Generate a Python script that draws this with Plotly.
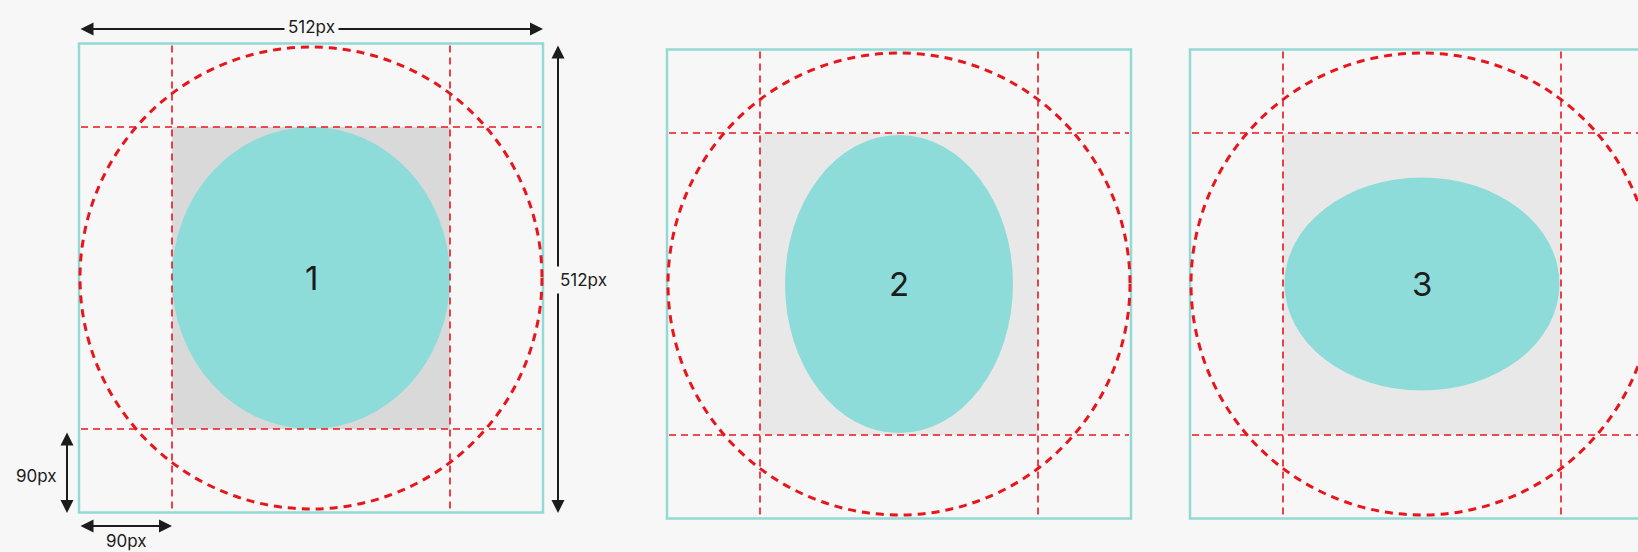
import plotly.graph_objects as go

# panel geometry, in screen pixels of the 1638x552 canvas
panel_labels = ["1", "2", "3"]
center_x = [311, 899, 1422]
center_y = [278, 284, 284]
box_w, box_h = 464, 469
gray_w, gray_h = 278, 302
gray_colors = ["#D9D9D9", "#E8E8E8", "#E8E8E8"]
ellipse_w = [278, 228, 275]
ellipse_h = [302, 298, 213]
circle_r = 231

# dimension arrows: (x0, y0, x1, y1, label, label_x, label_y, anchor)
dim_arrows = [
    (79, 29, 543, 29, "512px", 311, 27, "center"),
    (558, 44, 558, 513, "512px", 556, 280, "left"),
    (67, 431, 67, 513, "90px", 36, 476, "center"),
    (79, 526, 172, 526, "90px", 126, 541, "center"),
]

RED = "#E8161C"
TEAL_LINE = "#93D9D5"
TEAL_FILL = "#8EDCD9"
BG = "#F7F7F7"
INK = "#1C1C1C"

fig = go.Figure()
shapes = []
annotations = []

for i, lab in enumerate(panel_labels):
    cx, cy = center_x[i], center_y[i]
    # grey safe zone
    shapes.append(dict(type="rect", x0=cx - gray_w / 2, x1=cx + gray_w / 2,
                       y0=cy - gray_h / 2, y1=cy + gray_h / 2,
                       fillcolor=gray_colors[i], line_width=0, layer="below"))
    # teal ellipse
    shapes.append(dict(type="circle", x0=cx - ellipse_w[i] / 2, x1=cx + ellipse_w[i] / 2,
                       y0=cy - ellipse_h[i] / 2, y1=cy + ellipse_h[i] / 2,
                       fillcolor=TEAL_FILL, line_width=0, layer="below"))
    # outer teal frame
    shapes.append(dict(type="rect", x0=cx - box_w / 2, x1=cx + box_w / 2,
                       y0=cy - box_h / 2, y1=cy + box_h / 2,
                       line=dict(color=TEAL_LINE, width=2.5)))
    # dashed guide lines
    for gx in (cx - gray_w / 2, cx + gray_w / 2):
        shapes.append(dict(type="line", x0=gx, x1=gx, y0=cy - box_h / 2 + 2, y1=cy + box_h / 2 - 2,
                           line=dict(color=RED, width=1.6, dash="7px,5px")))
    for gy in (cy - gray_h / 2, cy + gray_h / 2):
        shapes.append(dict(type="line", x0=cx - box_w / 2 + 2, x1=cx + box_w / 2 - 2, y0=gy, y1=gy,
                           line=dict(color=RED, width=1.6, dash="7px,5px")))
    # dashed circle
    shapes.append(dict(type="circle", x0=cx - circle_r, x1=cx + circle_r,
                       y0=cy - circle_r, y1=cy + circle_r,
                       line=dict(color=RED, width=3, dash="8px,6px")))
    annotations.append(dict(x=cx, y=cy, text=lab, showarrow=False,
                            font=dict(size=33, color=INK, family="Inter")))

for x0, y0, x1, y1, lab, lx, ly, anchor in dim_arrows:
    annotations.append(dict(x=x1, y=y1, ax=x0, ay=y0, xref="x", yref="y",
                            axref="x", ayref="y", text="", showarrow=True,
                            arrowside="end+start", arrowhead=2, startarrowhead=2,
                            arrowsize=1.3, startarrowsize=1.3, arrowwidth=2,
                            arrowcolor=INK))
    annotations.append(dict(x=lx, y=ly, text=lab, showarrow=False, xanchor=anchor,
                            bgcolor=BG, borderpad=3,
                            font=dict(size=17, color=INK, family="Inter")))

fig.update_layout(
    width=1638, height=552,
    margin=dict(l=0, r=0, t=0, b=0),
    paper_bgcolor=BG, plot_bgcolor=BG,
    xaxis=dict(range=[0, 1638], visible=False, fixedrange=True),
    yaxis=dict(range=[552, 0], visible=False, fixedrange=True),
    shapes=shapes, annotations=annotations,
    showlegend=False,
)

fig.write_html(
    "out.html",
    config={"displayModeBar": False},
    post_script="document.body.style.margin='0';document.body.style.background='#F7F7F7';",
)
